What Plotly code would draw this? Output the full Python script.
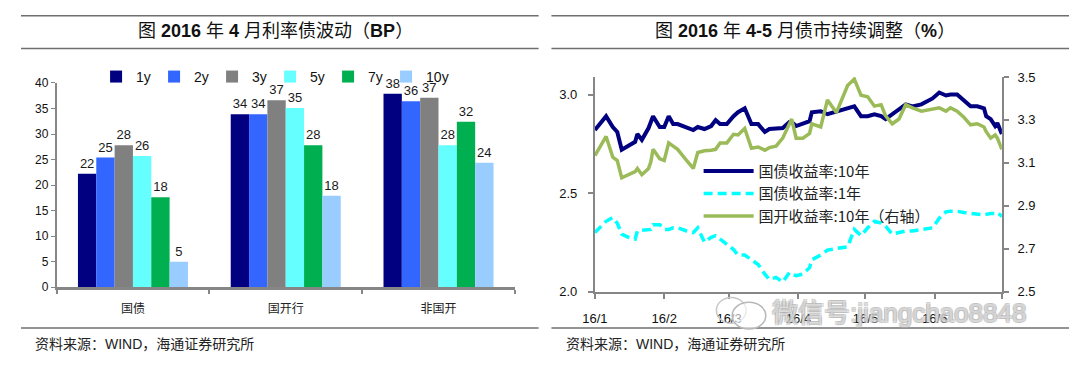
import plotly.graph_objects as go

# page is 1080x369; the browser body adds an 8px margin, so the figure is 1064x353
OFF = 8
W, H = 1080 - 2 * OFF, 369 - 2 * OFF

# ---------------- left chart: April 2016 rate-bond moves (BP) ----------------
categories = ["国债", "国开行", "非国开"]
tenors = ["1y", "2y", "3y", "5y", "7y", "10y"]
v_1y = [22.2, 33.9, 37.9]
v_2y = [25.4, 33.9, 36.4]
v_3y = [27.8, 36.6, 37.1]
v_5y = [25.7, 35.1, 27.8]
v_7y = [17.6, 27.8, 32.4]
v_10y = [5.0, 17.9, 24.4]
bar_colors = ["#000080", "#3366FF", "#808080", "#66FFFF", "#00B050", "#99CCFF"]
bar_ticks = [0, 5, 10, 15, 20, 25, 30, 35, 40]

# ---------------- right chart: yields Jan-Jun 2016 (%) ----------------
dates = ["2016-01-01", "2016-01-06", "2016-01-09", "2016-01-11", "2016-01-13", "2016-01-16",
         "2016-01-19", "2016-01-20", "2016-01-22", "2016-01-25", "2016-01-26", "2016-01-27",
         "2016-01-30", "2016-02-01", "2016-02-03", "2016-02-05", "2016-02-07", "2016-02-11",
         "2016-02-14", "2016-02-16", "2016-02-19", "2016-02-22", "2016-02-24", "2016-02-26",
         "2016-02-29", "2016-03-03", "2016-03-05", "2016-03-08", "2016-03-10", "2016-03-11",
         "2016-03-14", "2016-03-17", "2016-03-19", "2016-03-22", "2016-03-25", "2016-03-28",
         "2016-03-29", "2016-03-31", "2016-04-03", "2016-04-06", "2016-04-07", "2016-04-11",
         "2016-04-14", "2016-04-18", "2016-04-23", "2016-04-26", "2016-04-29", "2016-05-02",
         "2016-05-05", "2016-05-08", "2016-05-10", "2016-05-13", "2016-05-16", "2016-05-19",
         "2016-05-22", "2016-05-26", "2016-05-31", "2016-06-03", "2016-06-06", "2016-06-08",
         "2016-06-11", "2016-06-14", "2016-06-17", "2016-06-20", "2016-06-23", "2016-06-24",
         "2016-06-26", "2016-06-28", "2016-06-29", "2016-07-01"]
cgb_10y = [2.82, 2.89, 2.835, 2.81, 2.72, 2.74, 2.76, 2.80, 2.77, 2.83, 2.86, 2.89,
           2.835, 2.835, 2.89, 2.85, 2.85, 2.835, 2.82, 2.835, 2.825, 2.84, 2.87, 2.85,
           2.85, 2.89, 2.91, 2.93, 2.88, 2.85, 2.85, 2.81, 2.825, 2.83, 2.83, 2.86,
           2.86, 2.84, 2.85, 2.865, 2.91, 2.915, 2.90, 2.915, 2.93, 2.94, 2.89, 2.89,
           2.90, 2.89, 2.875, 2.90, 2.92, 2.95, 2.94, 2.95, 2.98, 3.01, 2.995, 3.00,
           3.00, 2.97, 2.94, 2.94, 2.93, 2.89, 2.875, 2.84, 2.855, 2.80]
cgb_1y = [2.300, 2.357, 2.376, 2.348, 2.292, 2.276, 2.267, 2.308, 2.311, 2.316, 2.316, 2.340,
          2.340, 2.316, 2.316, 2.324, 2.324, 2.308, 2.300, 2.324, 2.251, 2.276, 2.284, 2.267,
          2.243, 2.214, 2.186, 2.186, 2.170, 2.162, 2.138, 2.089, 2.062, 2.073, 2.049, 2.097,
          2.089, 2.081, 2.089, 2.122, 2.162, 2.186, 2.211, 2.219, 2.227, 2.316, 2.284, 2.324,
          2.357, 2.348, 2.332, 2.292, 2.300, 2.308, 2.308, 2.316, 2.324, 2.373, 2.405, 2.408,
          2.408, 2.402, 2.397, 2.392, 2.389, 2.392, 2.397, 2.397, 2.402, 2.381]
cdb_10y = [3.134, 3.223, 3.126, 3.111, 3.030, 3.045, 3.059, 3.074, 3.045, 3.074, 3.104, 3.163,
           3.119, 3.111, 3.193, 3.178, 3.163, 3.111, 3.074, 3.148, 3.156, 3.159, 3.163, 3.193,
           3.193, 3.233, 3.230, 3.260, 3.200, 3.168, 3.174, 3.159, 3.171, 3.178, 3.215, 3.289,
           3.304, 3.215, 3.215, 3.237, 3.282, 3.267, 3.393, 3.334, 3.460, 3.490, 3.415, 3.408,
           3.364, 3.371, 3.319, 3.282, 3.304, 3.371, 3.356, 3.341, 3.349, 3.356, 3.341, 3.356,
           3.341, 3.312, 3.277, 3.282, 3.267, 3.245, 3.215, 3.230, 3.215, 3.163]
month_ticks = ["2016-01-01", "2016-02-01", "2016-03-01", "2016-04-01", "2016-05-01",
               "2016-06-01", "2016-07-01"]
month_labels = ["16/1", "16/2", "16/3", "16/4", "16/5", "16/6", ""]
left_ticks = [2.0, 2.5, 3.0]
right_ticks = [2.5, 2.7, 2.9, 3.1, 3.3, 3.5]

LAT = "Liberation Sans, Arial, sans-serif"
CJK = "Noto Sans CJK SC, sans-serif"
MIX = "Liberation Sans, Noto Sans CJK SC, sans-serif"
AX = "#868686"


def px(x):
    """page x (pixels) -> paper fraction"""
    return (x - OFF) / W


def py(y):
    """page y (pixels from top) -> paper fraction"""
    return 1 - (y - OFF) / H


fig = go.Figure()

for name, vals, col in zip(tenors, [v_1y, v_2y, v_3y, v_5y, v_7y, v_10y], bar_colors):
    fig.add_trace(go.Bar(
        x=categories, y=vals, name=name, marker=dict(color=col, line=dict(width=0)),
        texttemplate="%{y:.0f}", textposition="outside", constraintext="none",
        textfont=dict(family=LAT, size=13, color="#1a1a1a"), cliponaxis=False,
        xaxis="x", yaxis="y", legend="legend", hoverinfo="skip",
        legendwidth=(40 if name == "10y" else None)))

fig.add_trace(go.Scatter(x=dates, y=cgb_10y, mode="lines", name="国债收益率:10年",
                         line=dict(color="#000080", width=4), xaxis="x2", yaxis="y2",
                         legend="legend2"))
fig.add_trace(go.Scatter(x=dates, y=cgb_1y, mode="lines", name="国债收益率:1年",
                         line=dict(color="#00FFFF", width=3.5, dash="9px,5px"),
                         xaxis="x2", yaxis="y2", legend="legend2"))
fig.add_trace(go.Scatter(x=dates, y=cdb_10y, mode="lines", name="国开收益率:10年（右轴）",
                         line=dict(color="#9BBB59", width=3.5), xaxis="x2", yaxis="y3",
                         legend="legend2"))

shapes = []
for (x0, x1) in [(8, 532), (545, 1069)]:
    for yy in [8.8, 43, 335]:
        shapes.append(dict(type="line", xref="paper", yref="paper", x0=px(x0), x1=px(x1),
                           y0=py(yy), y1=py(yy), line=dict(color="#6f6f6f", width=1.5)))
# watermark logo (two bubbles)
shapes.append(dict(type="circle", xref="paper", yref="paper", x0=px(712), x1=px(742),
                   y0=py(330), y1=py(303), line=dict(color="#c8c8c8", width=1.5)))
shapes.append(dict(type="circle", xref="paper", yref="paper", x0=px(728), x1=px(762),
                   y0=py(336), y1=py(308), line=dict(color="#b8b8b8", width=1.5),
                   fillcolor="rgba(255,255,255,0.6)"))

annotations = [
    dict(text="图 <b>2016</b> 年 <b>4</b> 月利率债波动（<b>BP</b>）", x=px(266), y=py(25),
         xref="paper", yref="paper", showarrow=False, xanchor="center", yanchor="middle",
         font=dict(family=MIX, size=18, color="#111")),
    dict(text="图 <b>2016</b> 年 <b>4-5</b> 月债市持续调整（<b>%</b>）", x=px(802), y=py(25),
         xref="paper", yref="paper", showarrow=False, xanchor="center", yanchor="middle",
         font=dict(family=MIX, size=18, color="#111")),
    dict(text="资料来源：WIND，海通证券研究所", x=px(20), y=py(352), xref="paper", yref="paper",
         showarrow=False, xanchor="left", yanchor="middle",
         font=dict(family=MIX, size=14, color="#222")),
    dict(text="资料来源：WIND，海通证券研究所", x=px(558), y=py(352), xref="paper", yref="paper",
         showarrow=False, xanchor="left", yanchor="middle",
         font=dict(family=MIX, size=14, color="#222")),
    dict(text="微信号:jiangchao8848", x=px(766), y=py(319), xref="paper", yref="paper",
         showarrow=False, xanchor="left", yanchor="middle",
         font=dict(family=MIX, size=26, color="rgba(240,240,240,0.5)",
                   shadow="1px 1px 0 #ababab, -1px -1px 0 #ababab, 1px -1px 0 #ababab, -1px 1px 0 #ababab")),
]

fig.update_layout(
    width=W, height=H, autosize=False,
    margin=dict(l=0, r=0, t=0, b=0, pad=0),
    paper_bgcolor="white", plot_bgcolor="rgba(0,0,0,0)",
    barmode="group", bargap=0.28, bargroupgap=0,
    showlegend=True,
    legend=dict(orientation="h", x=px(84), y=py(56), xanchor="left", yanchor="top",
                font=dict(family=LAT, size=14, color="#111"), bgcolor="rgba(0,0,0,0)",
                entrywidth=13, entrywidthmode="pixels", itemwidth=30,
                tracegroupgap=0, itemclick=False),
    legend2=dict(orientation="v", x=px(694), y=py(154), xanchor="left", yanchor="top",
                 font=dict(family=CJK, size=15, color="#222"), bgcolor="rgba(0,0,0,0)",
                 itemwidth=50, tracegroupgap=0, traceorder="normal"),
    xaxis=dict(domain=[px(44), px(508)], anchor="y", type="category", range=[-0.5, 2.5],
               showline=True, linecolor=AX, linewidth=2.5, ticks="outside", tickson="boundaries",
               ticklen=4, tickcolor=AX, tickwidth=1.5, showgrid=False,
               tickfont=dict(family=CJK, size=12, color="#222"), ticklabelstandoff=9),
    yaxis=dict(domain=[py(292.3), py(79)], anchor="x", range=[0, 40], tickvals=bar_ticks,
               showline=True, linecolor=AX, linewidth=1.5, ticks="outside", ticklen=4,
               tickcolor=AX, showgrid=False, zeroline=False,
               tickfont=dict(family=LAT, size=12, color="#111")),
    xaxis2=dict(domain=[px(589), px(1001)], anchor="y2", type="date",
                range=["2016-01-01", "2016-07-01"], tickvals=month_ticks, ticktext=month_labels,
                showline=True, linecolor=AX, linewidth=2, ticks="outside", ticklen=5,
                tickcolor=AX, tickwidth=1.5, showgrid=False, zeroline=False,
                tickfont=dict(family=LAT, size=13, color="#111"), ticklabelstandoff=9),
    yaxis2=dict(domain=[py(297), py(72.7)], anchor="x2", range=[2.0, 3.089],
                tickvals=left_ticks, ticktext=[f"{t:.1f}" for t in left_ticks],
                showline=True, linecolor=AX, linewidth=2, ticks="outside", ticklen=5,
                tickcolor=AX, tickwidth=1.5, showgrid=False, zeroline=False,
                tickfont=dict(family=LAT, size=13, color="#111"), ticklabelstandoff=8),
    yaxis3=dict(overlaying="y2", side="right", anchor="x2", range=[2.5, 3.5],
                tickvals=right_ticks, ticktext=[f"{t:.1f}" for t in right_ticks],
                showline=True, linecolor=AX, linewidth=2, ticks="outside", ticklen=5,
                tickcolor=AX, tickwidth=1.5, showgrid=False, zeroline=False,
                tickfont=dict(family=LAT, size=13, color="#111"), ticklabelstandoff=6),
    shapes=shapes,
    annotations=annotations,
)

fig.write_html("out.html")
